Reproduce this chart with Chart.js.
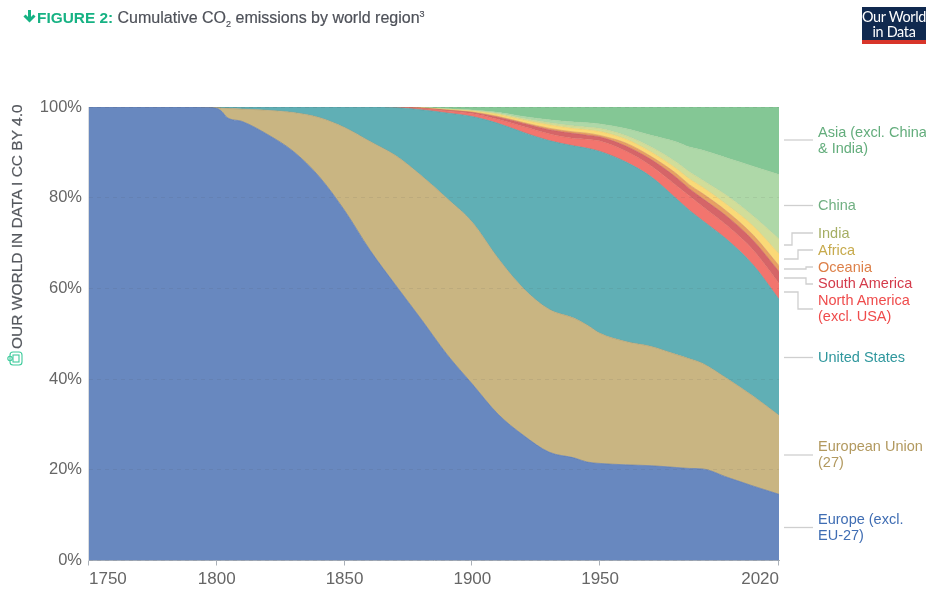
<!DOCTYPE html>
<html>
<head>
<meta charset="utf-8">
<title>Cumulative CO2 emissions by world region</title>
<script src="https://cdn.jsdelivr.net/npm/chart.js@4"></script>
<style>
  html, body { margin: 0; padding: 0; background: #fff; }
  body { width: 926px; height: 590px; position: relative; overflow: hidden; font-family: "Liberation Sans", Arial, sans-serif; }
  canvas { position: absolute; left: 0; top: 0; }
  #overlay { position: absolute; left: 0; top: 0; }
  #title { position: absolute; left: 37px; top: 9px; font-size: 16px; line-height: 17px; color: #4e5159; white-space: nowrap; -webkit-text-stroke: 0.2px #4e5159; }
  #title b { color: #16b283; font-size: 15.4px; -webkit-text-stroke: 0; }
  #title sub, #title sup { font-size: 9px; line-height: 0; }
  #logo { position: absolute; left: 862px; top: 7px; width: 64px; height: 31px; padding-top: 2px; background: #10294f; border-bottom: 4px solid #d8352a; color: #fff; font-family: Lato, sans-serif; font-size: 14.4px; line-height: 15px; text-align: center; white-space: nowrap; letter-spacing: -0.3px; }
  #credit { position: absolute; left: 16px; top: 349px; transform-origin: 0 0; transform: translate(-8px, 0) rotate(-90deg); font-size: 15.5px; line-height: 17px; color: #55585e; white-space: nowrap; -webkit-text-stroke: 0.2px #55585e; }
  .lab { position: absolute; left: 818px; font-size: 14.5px; line-height: 16px; white-space: nowrap; }
</style>
</head>
<body>
<canvas id="chart" width="926" height="590"></canvas>
<svg id="overlay" width="926" height="590"></svg>
<div id="title"><b>FIGURE 2:</b> Cumulative CO<sub>2</sub> emissions by world region<sup>3</sup></div>
<div id="logo">Our World<br>in Data</div>
<div id="credit">OUR WORLD IN DATA I CC BY 4.0</div>
<script>
const years = [1750,1790,1795,1800,1802,1804,1810,1820,1830,1840,1850,1860,1870,1880,1890,1900,1910,1920,1930,1940,1945,1950,1960,1970,1980,1985,1990,2000,2010,2020];

// share of cumulative emissions, percent
const europe =   [100,100,99.95,99.7,99,97.7,96.8,93.9,90.2,84.7,77.2,68.4,60.7,53.2,45.5,38.9,32.3,27.6,23.9,22.6,21.7,21.4,21.1,20.9,20.5,20.3,20.2,18.3,16.4,14.6];
const eu27 =     [0,0,0.05,0.2,0.75,2,2.75,5.4,8.6,13,18.3,24,28.6,31.7,34.4,35.7,34.4,32.4,31.5,30.8,30.2,28.7,27.2,26.3,24.9,24.2,23.3,21.7,19.8,17.4];
const usa =      [0,0,0,0.1,0.25,0.3,0.45,0.7,1.2,2.3,4.5,7.6,10.6,14.5,18.8,23.3,29.7,34.4,37.2,38,39,40.1,39.6,37.4,34.3,32.7,31.5,30.6,28.9,25.6];
const northAm =  [0,0,0,0,0,0,0,0,0,0,0,0,0.1,0.26,0.44,0.66,0.88,1.3,1.5,1.65,2,2.3,2.4,2.4,2.9,3.2,3.1,3.1,3.3,3.5];
const southAm =  [0,0,0,0,0,0,0,0,0,0,0,0,0,0.09,0.15,0.22,0.44,0.66,0.88,1.1,0.88,0.88,1.1,1.4,1.76,1.54,1.76,2,2.1,2.6];
const oceania =  [0,0,0,0,0,0,0,0,0,0,0,0,0,0.04,0.04,0.11,0.22,0.22,0.33,0.33,0.44,0.33,0.66,0.66,0.88,0.88,1.1,1.1,1.2,1.3];
const africa =   [0,0,0,0,0,0,0,0,0,0,0,0,0,0.04,0.13,0.22,0.44,0.55,0.77,0.77,0.77,0.88,0.88,1,1.1,1.3,1.4,1.5,2,2.6];
const india =    [0,0,0,0,0,0,0,0,0,0,0,0,0,0.02,0.07,0.11,0.22,0.33,0.44,0.55,0.55,0.66,0.77,1.1,1.43,1.54,1.54,2,2.2,3.3];
const china =    [0,0,0,0,0,0,0,0,0,0,0,0,0,0.02,0.07,0.11,0.22,0.44,0.66,0.88,1,1,1.54,2.6,4.5,5.5,6.6,8.4,11,14.2];
const asia =     [0,0,0,0,0,0,0,0,0,0,0,0,0,0.13,0.4,0.67,1.18,2.1,2.82,3.32,3.46,3.75,4.75,6.24,7.73,8.84,9.5,11.3,13.1,14.9];

const xTicks = [1750,1800,1850,1900,1950,2020];
const yTicks = [0,20,40,60,80,100];

function series(label, data, fillColor, lineColor, first) {
  return {
    label: label,
    data: data,
    backgroundColor: fillColor,
    borderColor: lineColor,
    borderWidth: 0.6,
    pointRadius: 0,
    cubicInterpolationMode: 'monotone',
    fill: first ? 'origin' : '-1'
  };
}

new Chart(document.getElementById('chart'), {
  type: 'line',
  data: {
    labels: years,
    datasets: [
      series('Europe (excl. EU-27)', europe, '#6888bf', '#5a76a8', true),
      series('European Union (27)', eu27, '#c9b582', '#ab9a6e'),
      series('United States', usa, '#60afb5', '#55999e'),
      series('North America (excl. USA)', northAm, '#f2756e', '#d9695f'),
      series('South America', southAm, '#d56568', '#c45c5f'),
      series('Oceania', oceania, '#e7a063', '#d9965c'),
      series('Africa', africa, '#fad977', '#e8c96c'),
      series('India', india, '#d1dd99', '#c3cf8d'),
      series('China', china, '#aed8a8', '#a1cc9b'),
      series('Asia (excl. China & India)', asia, '#84c795', '#84c795')
    ]
  },
  options: {
    responsive: false,
    animation: false,
    layout: { padding: { left: 0, right: 147, top: 107, bottom: 0 } },
    plugins: { legend: { display: false }, tooltip: { enabled: false } },
    scales: {
      x: {
        type: 'linear',
        min: 1750,
        max: 2020,
        afterBuildTicks: axis => { axis.ticks = xTicks.map(v => ({ value: v })); },
        afterFit: axis => { axis.height = 29.5; },
        ticks: {
          autoSkip: false,
          maxRotation: 0,
          align: 'inner',
          padding: 3,
          color: '#666',
          font: { family: '"Liberation Sans"', size: 17 },
          callback: v => String(v)
        },
        grid: { display: false, drawTicks: true, tickLength: 6 },
        border: { display: true, color: '#aab0b8', width: 1 }
      },
      y: {
        stacked: true,
        min: 0,
        max: 100,
        afterBuildTicks: axis => { axis.ticks = yTicks.map(v => ({ value: v })); },
        afterFit: axis => { axis.width = 89; },
        ticks: {
          padding: 7,
          color: '#666',
          font: { family: '"Liberation Sans"', size: 16.5 },
          callback: v => v + '%'
        },
        grid: { z: 1, color: 'rgba(70,70,70,0.09)', drawTicks: false, lineWidth: 1 },
        border: { display: false, dash: [4, 4] }
      }
    }
  },
  plugins: [{
    // left edge of the plot and short tick marks under the x axis
    id: 'axisMarks',
    afterDraw(chart) {
      const c = chart.ctx, xs = chart.scales.x, area = chart.chartArea;
      c.save();
      c.lineWidth = 1;
      c.strokeStyle = '#d9dce0';
      c.beginPath();
      c.moveTo(area.left - 0.5, area.top);
      c.lineTo(area.left - 0.5, area.bottom);
      c.stroke();
      c.strokeStyle = '#aab0b8';
      xTicks.forEach(v => {
        const px = Math.round(xs.getPixelForValue(v)) - 0.5;
        c.beginPath();
        c.moveTo(px, area.bottom);
        c.lineTo(px, area.bottom + 5);
        c.stroke();
      });
      c.restore();
    }
  }]
});

// direct labels next to the plot
const labelText = [
  ['Asia (excl. China', '#63ad7c', 124], ['& India)', '#63ad7c', 140],
  ['China', '#71b082', 197],
  ['India', '#a5ae63', 225],
  ['Africa', '#c7aa4c', 242],
  ['Oceania', '#dd8049', 259],
  ['South America', '#d43b4b', 275],
  ['North America', '#ef4b4b', 292], ['(excl. USA)', '#ef4b4b', 308],
  ['United States', '#2f979d', 349],
  ['European Union', '#b2995f', 438], ['(27)', '#b2995f', 454],
  ['Europe (excl.', '#3f6db3', 511], ['EU-27)', '#3f6db3', 527]
];
labelText.forEach(item => {
  const d = document.createElement('div');
  d.className = 'lab';
  d.textContent = item[0];
  d.style.color = item[1];
  d.style.top = item[2] + 'px';
  document.body.appendChild(d);
});

const connectors = [
  '784,140 813,140', '784,205.5 813,205.5',
  '784,245 792,245 792,233 813,233',
  '784,259 798,259 798,250 813,250',
  '784,269 806,269 806,267 813,267',
  '784,278 806,278 806,284 813,284',
  '784,292 798,292 798,309 813,309',
  '784,357.5 813,357.5', '784,455 813,455', '784,527.5 813,527.5'
];
const svg = document.getElementById('overlay');
let marks = connectors.map(p => '<polyline points="' + p + '" fill="none" stroke="#cfcfcf" stroke-width="1.3"/>').join('');
// green arrow in the title
marks += '<path d="M29.5 10 V21 M24.5 15.5 L29.5 20.5 L34.5 15.5" fill="none" stroke="#16b283" stroke-width="3"/>';
// small badge under the credit
marks += '<g fill="none" stroke="#3ecb9c" stroke-width="1.1"><rect x="10" y="352" width="12" height="13" rx="3"/><rect x="13" y="355" width="6" height="7"/><circle cx="10" cy="358.5" r="2.2"/></g>';
svg.innerHTML = marks;
</script>
</body>
</html>
